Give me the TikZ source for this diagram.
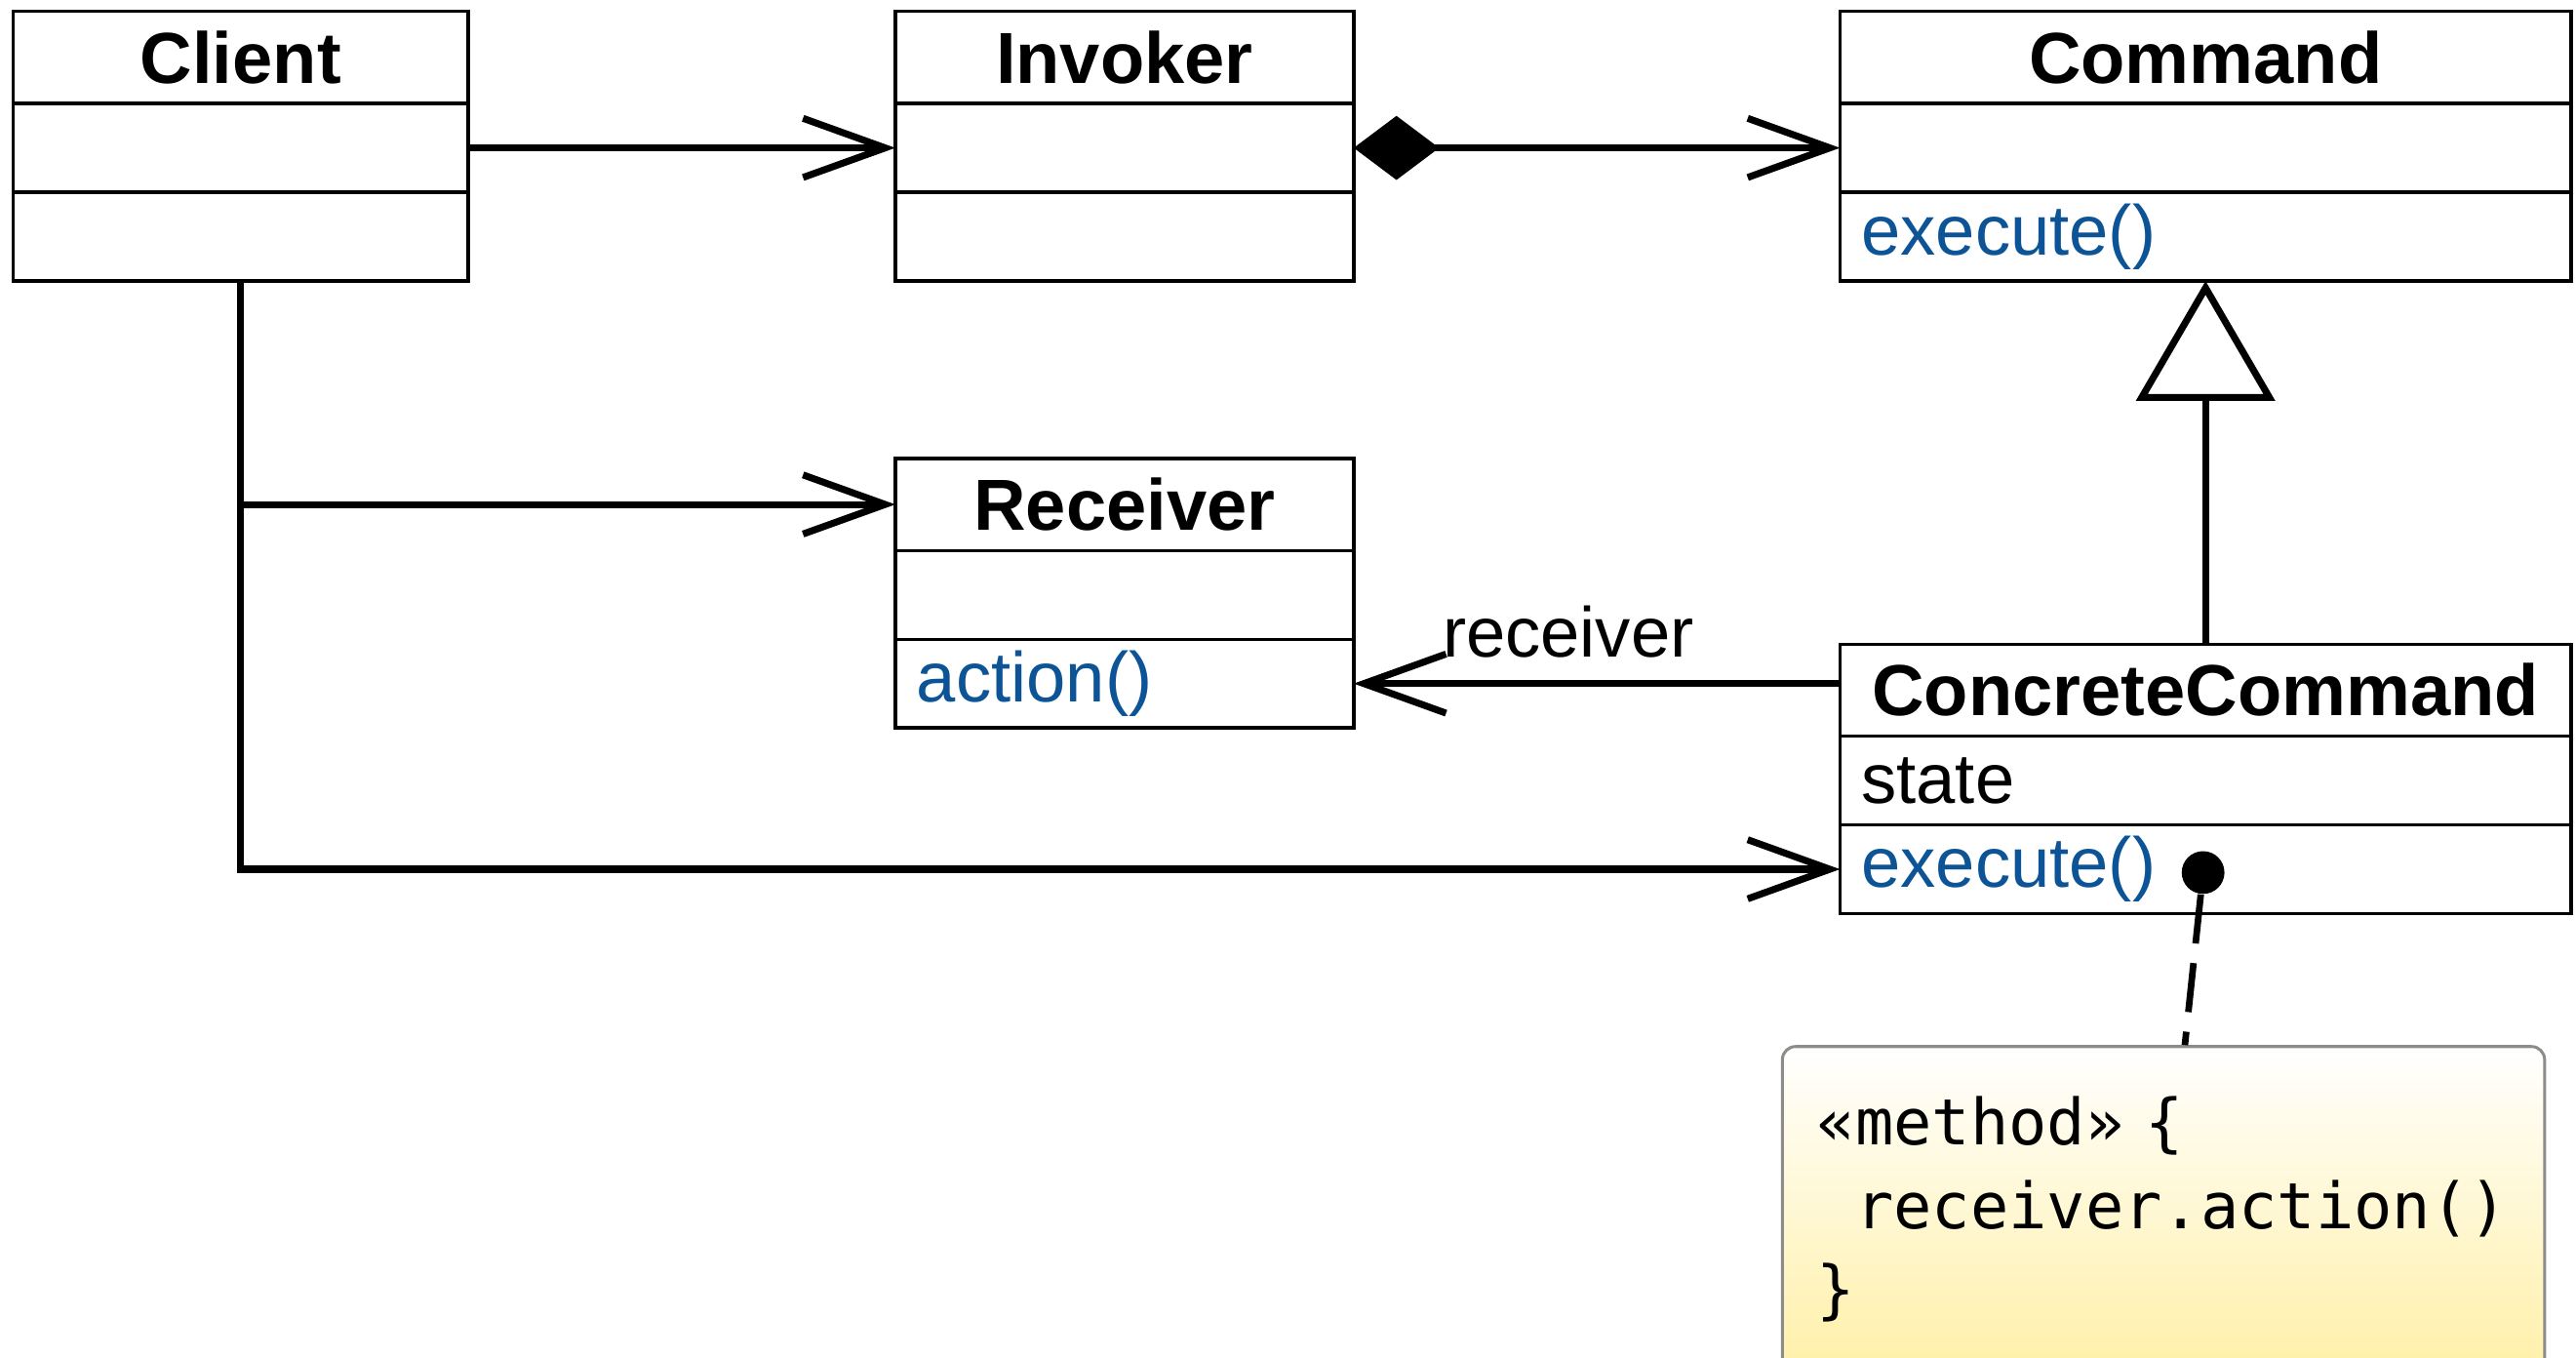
\documentclass[tikz,border=0pt]{standalone}
\usepackage{fontspec}
\setmainfont{Liberation Sans}
\newfontfamily\notefont{DejaVu Sans Mono}
\usetikzlibrary{positioning,arrows.meta}
\definecolor{opblue}{RGB}{12,84,150}
\definecolor{notebottom}{RGB}{255,240,168}
\definecolor{noteline}{RGB}{140,140,140}
\tikzset{%
   classtitle/.style = { draw, line width=1pt, outer sep=0pt, inner xsep=6.5pt, inner ysep=0pt,
                         minimum height=28pt, text width=#1, align=center,
                         font=\fontsize{22}{26}\selectfont\bfseries },
      compart/.style = { draw, line width=1pt, outer sep=0pt, inner xsep=6.5pt, inner ysep=0pt,
                         minimum height=27pt, text width=#1, align=left,
                         font=\fontsize{21.5}{26}\selectfont },
        assoc/.style = { line width=2.1pt, -{Straight Barb[length=25pt,width=18pt]} },
    composite/.style = { line width=2.1pt, {Diamond[length=26pt,width=19.5pt]}-{Straight Barb[length=25pt,width=18pt]} },
   generalize/.style = { line width=2.1pt, -{Triangle[length=36.5pt,width=42pt,fill=white]} },
    rolelabel/.style = { font=\fontsize{21.5}{26}\selectfont, inner sep=0pt },
      notebox/.style = { draw=noteline, line width=0.9pt, rounded corners=4pt, top color=white,
                         bottom color=notebottom, inner xsep=10.5pt, text width=211pt,
                         minimum height=99pt, align=left,
                         font=\fontsize{19.4}{25.5}\notefont },
       notedot/.style = { circle, fill=black, inner sep=0pt, minimum size=13pt },
      notelink/.style = { line width=2pt, dash pattern=on 15pt off 6pt }
}

\begin{document}
\begin{tikzpicture}[x=0.5pt, y=-0.5pt]

  \useasboundingbox (0,0) rectangle (1568,826);

  % classes
  \node[classtitle=125.5pt, anchor=north west] (client) at (8,7) {Client};
  \node[compart=125.5pt, below=0pt of client] (clientattr) {};
  \node[compart=125.5pt, below=0pt of clientattr] (clientops) {};

  \node[classtitle=126.5pt, anchor=north west] (invoker) at (545,7) {Invoker};
  \node[compart=126.5pt, below=0pt of invoker] (invokerattr) {};
  \node[compart=126.5pt, below=0pt of invokerattr] (invokerops) {};

  \node[classtitle=209.5pt, anchor=north west] (cmd) at (1120,7) {Command};
  \node[compart=209.5pt, below=0pt of cmd] (cmdattr) {};
  \node[compart=209.5pt, below=0pt of cmdattr] (cmdops) {\textcolor{opblue}{execute()}};

  \node[classtitle=126.5pt, anchor=north west] (receiver) at (545,279) {Receiver};
  \node[compart=126.5pt, below=0pt of receiver] (recattr) {};
  \node[compart=126.5pt, below=0pt of recattr] (recops) {\textcolor{opblue}{action()}};

  \node[classtitle=209.5pt, anchor=north west] (cc) at (1120,392) {ConcreteCommand};
  \node[compart=209.5pt, below=0pt of cc] (ccattr) {state};
  \node[compart=209.5pt, below=0pt of ccattr] (ccops) {\textcolor{opblue}{execute()}};

  % note
  \node[notebox, anchor=north west] (note) at (1084,636)
    {«method» \{\\\hphantom{r}receiver.action()\\\}};
  \node[notedot] (execdot) at (1341,531) {};

  % connectors
  \draw[assoc] (clientattr.east) -- (invokerattr.west);
  \draw[composite] (invokerattr.east) -- (cmdattr.west);
  \draw[assoc] (clientops.south) |- (ccops.west);
  \draw[assoc] (clientops.south |- receiver.west) -- (receiver.west);
  \draw[assoc] (recops.east -| cc.west) -- (recops.east)
    node[rolelabel, anchor=base west, xshift=26pt, yshift=8pt] {receiver};
  \draw[generalize] (cc.north) -- (cmdops.south);
  \draw[notelink] (execdot) -- ([xshift=6.5pt]note.north);

\end{tikzpicture}
\end{document}
